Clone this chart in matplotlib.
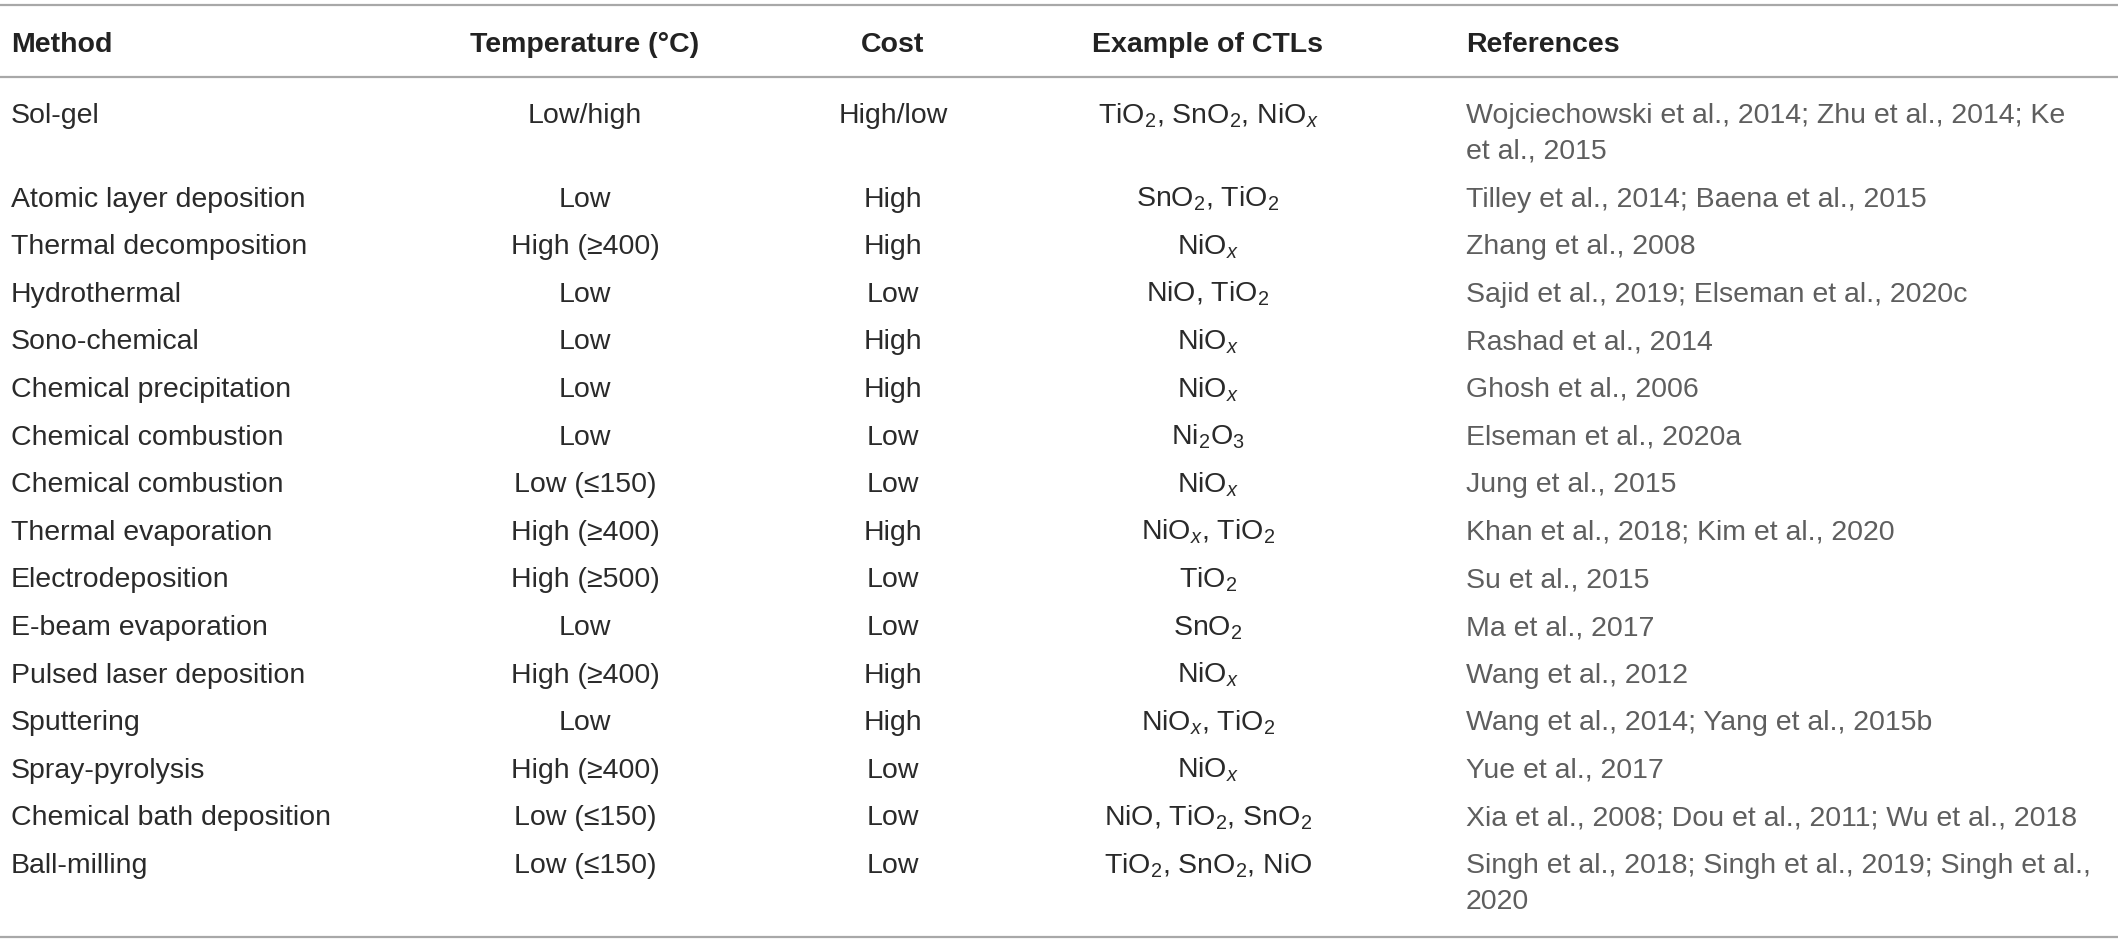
import matplotlib
matplotlib.use("Agg")
import matplotlib.pyplot as plt

plt.rcParams['font.family'] = ['Liberation Sans', 'DejaVu Sans']
plt.rcParams['mathtext.fontset'] = 'custom'
plt.rcParams['mathtext.rm'] = 'Liberation Sans'
plt.rcParams['mathtext.it'] = 'Liberation Sans:italic'
plt.rcParams['mathtext.bf'] = 'Liberation Sans:bold'

headers = ["Method", "Temperature (°C)", "Cost", "Example of CTLs", "References"]

methods = ["Sol-gel", "Atomic layer deposition", "Thermal decomposition", "Hydrothermal",
           "Sono-chemical", "Chemical precipitation", "Chemical combustion",
           "Chemical combustion", "Thermal evaporation", "Electrodeposition",
           "E-beam evaporation", "Pulsed laser deposition", "Sputtering",
           "Spray-pyrolysis", "Chemical bath deposition", "Ball-milling"]

temperatures = ["Low/high", "Low", "High (≥400)", "Low", "Low", "Low", "Low", "Low (≤150)",
                "High (≥400)", "High (≥500)", "Low", "High (≥400)", "Low", "High (≥400)",
                "Low (≤150)", "Low (≤150)"]

costs = ["High/low", "High", "High", "Low", "High", "High", "Low", "Low", "High", "Low",
         "Low", "High", "High", "Low", "Low", "Low"]

ctls = [r"TiO$_2$, SnO$_2$, NiO$_{\mathit{x}}$",
        r"SnO$_2$, TiO$_2$",
        r"NiO$_{\mathit{x}}$",
        r"NiO, TiO$_2$",
        r"NiO$_{\mathit{x}}$",
        r"NiO$_{\mathit{x}}$",
        r"Ni$_2$O$_3$",
        r"NiO$_{\mathit{x}}$",
        r"NiO$_{\mathit{x}}$, TiO$_2$",
        r"TiO$_2$",
        r"SnO$_2$",
        r"NiO$_{\mathit{x}}$",
        r"NiO$_{\mathit{x}}$, TiO$_2$",
        r"NiO$_{\mathit{x}}$",
        r"NiO, TiO$_2$, SnO$_2$",
        r"TiO$_2$, SnO$_2$, NiO"]

references = ["Wojciechowski et al., 2014; Zhu et al., 2014; Ke\net al., 2015",
              "Tilley et al., 2014; Baena et al., 2015",
              "Zhang et al., 2008",
              "Sajid et al., 2019; Elseman et al., 2020c",
              "Rashad et al., 2014",
              "Ghosh et al., 2006",
              "Elseman et al., 2020a",
              "Jung et al., 2015",
              "Khan et al., 2018; Kim et al., 2020",
              "Su et al., 2015",
              "Ma et al., 2017",
              "Wang et al., 2012",
              "Wang et al., 2014; Yang et al., 2015b",
              "Yue et al., 2017",
              "Xia et al., 2008; Dou et al., 2011; Wu et al., 2018",
              "Singh et al., 2018; Singh et al., 2019; Singh et al.,\n2020"]

W, H = 2118, 943
fig = plt.figure(figsize=(W / 100, H / 100), dpi=100)
ax = fig.add_axes([0, 0, 1, 1])
ax.set_xlim(0, W)
ax.set_ylim(H, 0)
ax.axis("off")

fs = 20.5
dark = "#2a2a2a"
grey = "#5e5e5e"
rule = "#a8a8a8"

# column anchors
col_x = [11, 585, 893, 1208, 1466]
col_ha = ["left", "center", "center", "center", "left"]

# horizontal rules
for yy in (5, 77, 937):
    ax.plot([0, W], [yy, yy], color=rule, lw=1.6, solid_capstyle="butt")

# header
for x, ha, h in zip(col_x, col_ha, headers):
    ax.text(x, 42 + 10, h, ha=ha, va="baseline", fontsize=fs, fontweight="bold", color="#222222")

# rows
pitch = 47.6
line_gap = 36
y = 113
for m, t, c, e, r in zip(methods, temperatures, costs, ctls, references):
    cells = [m, t, c, e]
    for x, ha, s in zip(col_x[:4], col_ha[:4], cells):
        ax.text(x, y + 10, s, ha=ha, va="baseline", fontsize=fs, color=dark)
    ref_lines = r.split("\n")
    for k, line in enumerate(ref_lines):
        ax.text(col_x[4], y + 10 + k * line_gap, line, ha="left", va="baseline",
                fontsize=fs, color=grey)
    y += pitch + line_gap * (len(ref_lines) - 1)

fig.savefig("out.png", dpi=100)
